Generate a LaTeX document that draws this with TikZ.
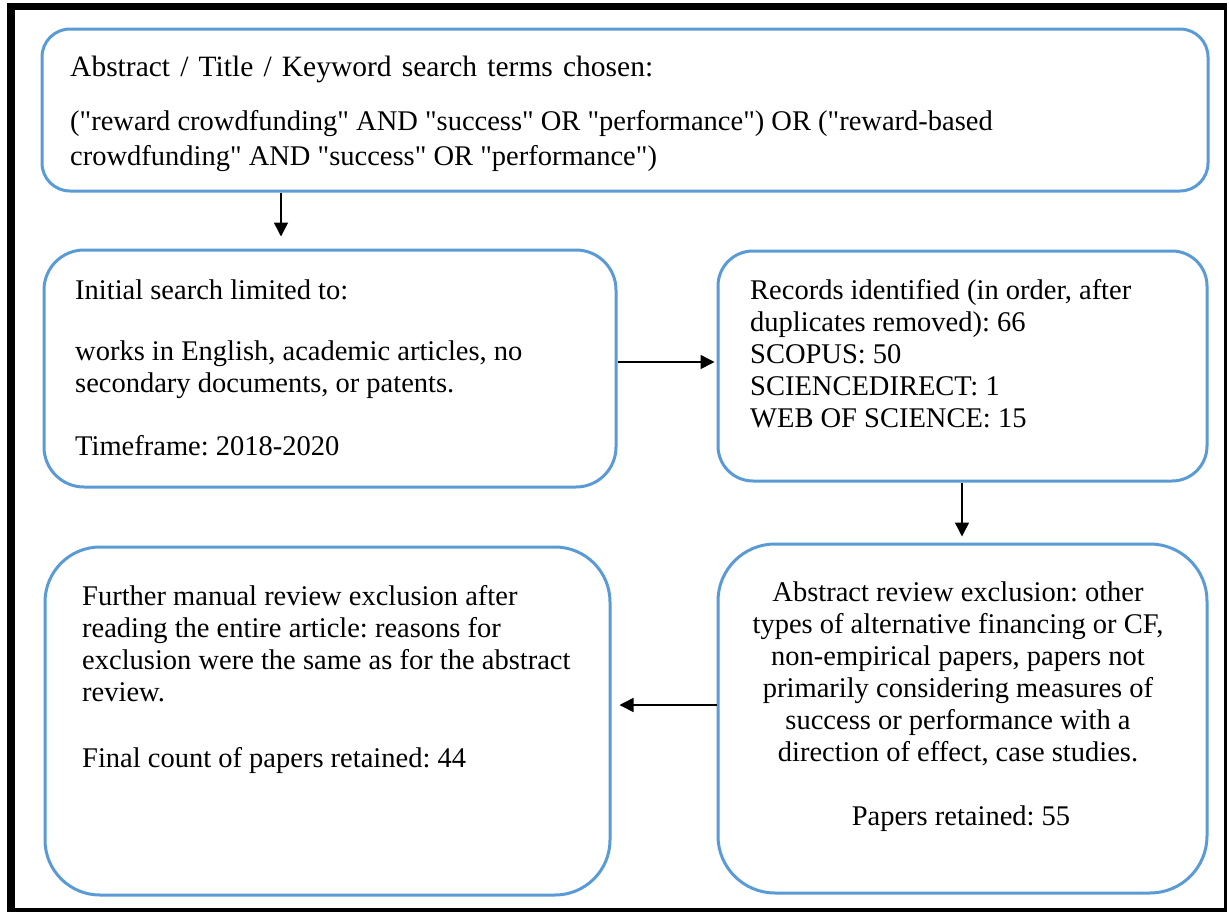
\documentclass[tikz,border=0pt]{standalone}
\usepackage{fontspec}
\setmainfont{Liberation Serif}[Ligatures=TeXOff]
\frenchspacing
\usetikzlibrary{arrows.meta}
\definecolor{boxblue}{RGB}{91,155,213}
\definecolor{frameblack}{RGB}{0,0,0}
\begin{document}
\begin{tikzpicture}[x=1pt,y=-1pt,
  box/.style={draw=boxblue, line width=3pt, fill=none, inner sep=0pt},
  txt/.style={anchor=base west, inner sep=0pt, font=\fontsize{28.5}{32}\selectfont},
  ctxt/.style={anchor=base, inner sep=0pt, font=\fontsize{28.5}{32}\selectfont},
  arr/.style={line width=1.5pt, -{Triangle[length=14pt,width=14pt]}},
  framebar/.style={fill=frameblack, draw=none}
]
\useasboundingbox (0,0) rectangle (1229,913);
\fill[white] (0,0) rectangle (1229,913);
% outer frame
\fill[framebar] (7,3) rectangle (15,911);
\fill[framebar] (7,3) rectangle (1227,10);
\fill[framebar] (1224,3) rectangle (1227,911);
\fill[framebar] (7,908) rectangle (1227,912);

% boxes
\node[box, minimum width=1166pt, minimum height=162pt, rounded corners=28pt] (b1) at (625,110) {};
\node[box, minimum width=572pt, minimum height=237pt, rounded corners=40pt] (b2) at (330,368.5) {};
\node[box, minimum width=489pt, minimum height=230pt, rounded corners=35pt] (b3) at (962.5,366) {};
\node[box, minimum width=489pt, minimum height=349pt, rounded corners=57pt] (b4) at (962.5,718.5) {};
\node[box, minimum width=565pt, minimum height=348pt, rounded corners=55pt] (b5) at (327.5,721) {};

% text box 1
\node[txt, font=\fontsize{29.5}{32}\selectfont] (t1a) at (70,76) {\makebox[583pt][s]{Abstract / Title / Keyword search terms chosen:}};
\node[txt] (t1b) at (70,130) {("reward crowdfunding" AND "success" OR "performance") OR ("reward-based};
\node[txt] (t1c) at (70,165) {crowdfunding" AND "success" OR "performance")};

% text box 2
\node[txt] (t2a) at (75,299) {Initial search limited to:};
\node[txt] (t2b) at (75,360) {works in English, academic articles, no};
\node[txt] (t2c) at (75,392) {secondary documents, or patents.};
\node[txt] (t2d) at (75,455) {Timeframe: 2018-2020};

% text box 3
\node[txt] (t3a) at (750,299) {Records identified (in order, after};
\node[txt] (t3b) at (750,331) {duplicates removed): 66};
\node[txt] (t3c) at (750,363) {SCOPUS: 50};
\node[txt] (t3d) at (750,395) {SCIENCEDIRECT: 1};
\node[txt] (t3e) at (750,427) {WEB OF SCIENCE: 15};

% text box 4
\node[ctxt] (t4a) at (958,601) {Abstract review exclusion: other};
\node[ctxt] (t4b) at (958,633) {types of alternative financing or CF,};
\node[ctxt] (t4c) at (958,665) {non-empirical papers, papers not};
\node[ctxt] (t4d) at (958,697) {primarily considering measures of};
\node[ctxt] (t4e) at (958,729) {success or performance with a};
\node[ctxt] (t4f) at (958,761) {direction of effect, case studies.};
\node[ctxt] (t4g) at (961,825) {Papers retained: 55};

% text box 5
\node[txt] (t5a) at (82,605) {Further manual review exclusion after};
\node[txt] (t5b) at (82,637) {reading the entire article: reasons for};
\node[txt] (t5c) at (82,669) {exclusion were the same as for the abstract};
\node[txt] (t5d) at (82,701) {review.};
\node[txt] (t5e) at (82,767) {Final count of papers retained: 44};

% connectors
\coordinate (c1) at (281,0);
\coordinate (c2) at (0,362);
\coordinate (c3) at (962,0);
\coordinate (c4) at (0,705);
\draw[arr, shorten >=12pt] (b1.south -| c1) -- (b2.north -| c1);
\draw[arr, shorten >=2pt] (b2.east |- c2) -- (b3.west |- c2);
\draw[arr, shorten >=6pt] (b3.south -| c3) -- (b4.north -| c3);
\draw[arr, shorten >=8pt] (b4.west |- c4) -- (b5.east |- c4);
\end{tikzpicture}
\end{document}
